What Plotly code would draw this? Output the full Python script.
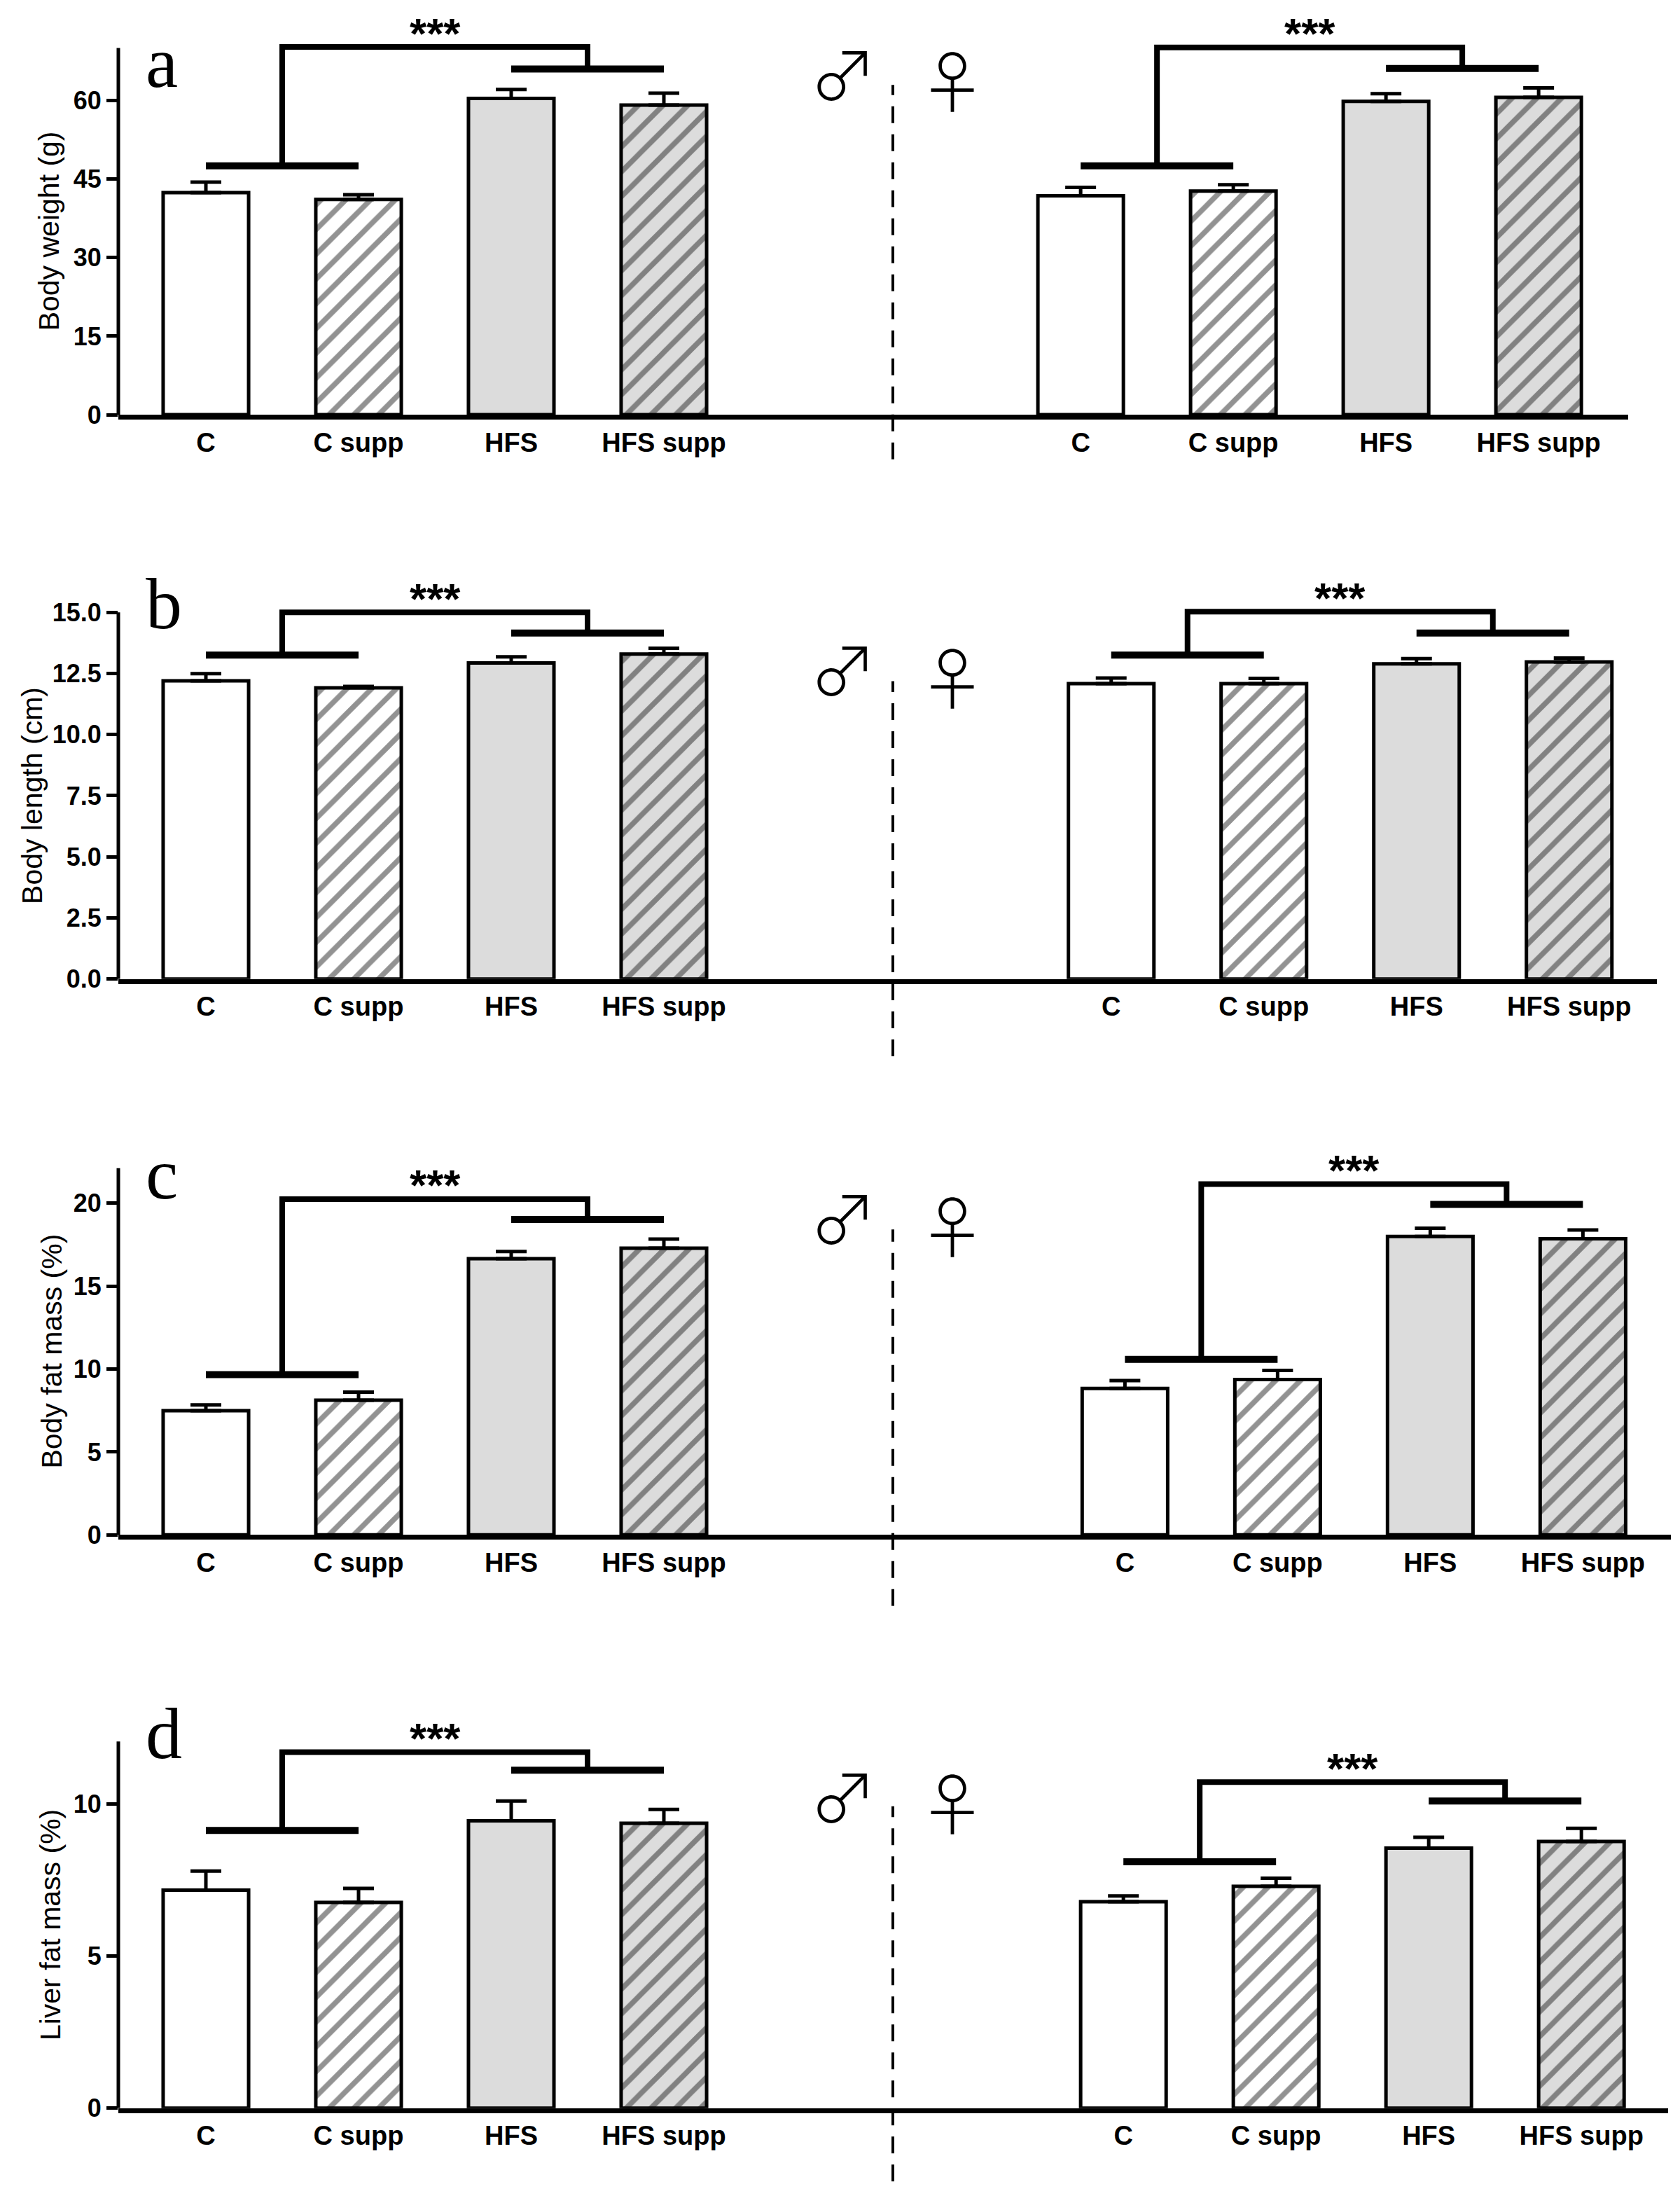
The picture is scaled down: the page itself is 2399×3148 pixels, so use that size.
import plotly.graph_objects as go

W, H = 2399, 3148

groups = ["C", "C supp", "HFS", "HFS supp"]
letters = ["a", "b", "c", "d"]
y_titles = ["Body weight (g)", "Body length (cm)", "Body fat mass (%)", "Liver fat mass (%)"]

# means and SEM
weight_m = [42.4, 41.1, 60.4, 59.1]
weight_m_sem = [2.0, 0.9, 1.7, 2.3]
weight_f = [41.8, 42.7, 59.8, 60.6]
weight_f_sem = [1.6, 1.2, 1.5, 1.8]

length_m = [12.20, 11.91, 12.93, 13.29]
length_m_sem = [0.29, 0.06, 0.25, 0.24]
length_f = [12.08, 12.08, 12.89, 12.97]
length_f_sem = [0.23, 0.22, 0.22, 0.16]

bodyfat_m = [7.49, 8.12, 16.65, 17.28]
bodyfat_m_sem = [0.35, 0.49, 0.43, 0.55]
bodyfat_f = [8.83, 9.36, 17.99, 17.85]
bodyfat_f_sem = [0.47, 0.55, 0.49, 0.53]

liverfat_m = [7.16, 6.76, 9.44, 9.36]
liverfat_m_sem = [0.63, 0.46, 0.65, 0.45]
liverfat_f = [6.78, 7.29, 8.54, 8.76]
liverfat_f_sem = [0.19, 0.26, 0.36, 0.43]

# significance brackets: [left pair, right pair, top]
bracket_m = [[47.5, 66.0, 70.2], [13.25, 14.15, 15.0], [9.66, 19.01, 20.24], [9.12, 11.10, 11.69]]
bracket_f = [[47.5, 66.1, 70.1], [13.25, 14.15, 15.03], [10.58, 19.92, 21.14], [8.09, 10.09, 10.71]]

y_top = [70, 15, 22.1, 12.04]
y_ticks = [[0, 15, 30, 45, 60], [0, 2.5, 5, 7.5, 10, 12.5, 15], [0, 5, 10, 15, 20], [0, 5, 10]]

panels = [
    (weight_m, weight_m_sem, weight_f, weight_f_sem),
    (length_m, length_m_sem, length_f, length_f_sem),
    (bodyfat_m, bodyfat_m_sem, bodyfat_f, bodyfat_f_sem),
    (liverfat_m, liverfat_m_sem, liverfat_f, liverfat_f_sem),
]

# layout in pixels
AX_LEFT = 161
PX_UNIT = 218
X_MIN = -(286 - AX_LEFT) / PX_UNIT
ZERO_PX = [588, 1399, 2198, 3022]
AX_H = 527
EXTRA = 60
AX_RIGHT = [2317, 2358, 2378, 2374]
FEMALE_X0 = [5.73, 5.93, 6.02, 6.01]
LETTER_BASE = [470, 503, 482, 502]
TITLE_X = [62, 38, 66, 64]
DASH_EXT = [(474, 64), (428, 111), (439, 102), (434, 105)]
SYMBOL_Y = [(494, 484), (449, 437), (460, 448), (452, 442)]

fills = ["white", "white", "#dcdcdc", "#dcdcdc"]
hatch = ["", "/", "", "/"]

BOLD = "Liberation Sans"
SYMBOL_FONT = "Noto Sans CJK SC, Noto Sans CJK JP, DejaVu Sans"


def py(px):
    return 1 - px / H


fig = go.Figure()
annotations = []
shapes = []

for i, (m, ms, f, fs) in enumerate(panels):
    sfx = "" if i == 0 else str(i + 1)
    xa, ya = "x" + sfx, "y" + sfx
    f0 = FEMALE_X0[i]

    for g in range(4):
        fig.add_trace(go.Bar(
            x=[g, f0 + g], y=[m[g], f[g]], width=0.56,
            marker=dict(color=fills[g], line=dict(color="black", width=5),
                        pattern=dict(shape=hatch[g], fgcolor="#262626", size=25,
                                     solidity=0.3, fillmode="overlay")),
            error_y=dict(type="data", symmetric=False, array=[ms[g], fs[g]],
                         arrayminus=[0, 0], color="black", thickness=5, width=22),
            xaxis=xa, yaxis=ya, showlegend=False,
        ))

    for base, lv in ((0, bracket_m[i]), (f0, bracket_f[i])):
        lo_l, lo_r, top = lv
        fig.add_trace(go.Scatter(
            x=[base, base + 1, None, base + 2, base + 3],
            y=[lo_l, lo_l, None, lo_r, lo_r],
            mode="lines", line=dict(color="black", width=10),
            xaxis=xa, yaxis=ya, showlegend=False))
        fig.add_trace(go.Scatter(
            x=[base + 0.5, base + 0.5, base + 2.5, base + 2.5],
            y=[lo_l, top, top, lo_r],
            mode="lines", line=dict(color="black", width=8),
            xaxis=xa, yaxis=ya, showlegend=False))
        annotations.append(dict(
            x=base + 1.5, y=top, xref=xa, yref=ya, text="***", showarrow=False,
            yanchor="middle", yshift=20,
            font=dict(family=BOLD, size=62, color="black", weight="bold")))

    z = ZERO_PX[i]
    rng_top = y_top[i] * (AX_H + EXTRA) / AX_H
    x_max = X_MIN + (AX_RIGHT[i] - AX_LEFT) / PX_UNIT

    fig.update_layout({
        "xaxis" + sfx: dict(
            domain=[AX_LEFT / W, AX_RIGHT[i] / W], range=[X_MIN, x_max],
            anchor=ya, showline=True, linewidth=7, linecolor="black",
            showgrid=False, zeroline=False, ticks="",
            tickvals=[0, 1, 2, 3] + [f0 + k for k in range(4)],
            ticktext=groups * 2, ticklabelstandoff=0,
            tickfont=dict(family=BOLD, size=38, color="black", weight="bold")),
        "yaxis" + sfx: dict(
            domain=[py(z), py(z - AX_H - EXTRA)], range=[0, rng_top],
            anchor=xa, showline=False, showgrid=False, zeroline=False,
            ticks="outside", ticklen=16, tickwidth=5, tickcolor="black",
            tickvals=y_ticks[i], tickformat=".1f" if i == 1 else "d",
            tickfont=dict(family=BOLD, size=36, color="black", weight="bold")),
    })

    # y axis line, stopping at the top of the scale
    shapes.append(dict(type="line", xref="paper", yref=ya,
                       x0=AX_LEFT / W, x1=AX_LEFT / W, y0=0, y1=y_top[i],
                       line=dict(color="black", width=5)))
    # dashed separator between males and females
    up, down = DASH_EXT[i]
    shapes.append(dict(type="line", xref=xa, yref="paper", x0=4.5, x1=4.5,
                       y0=py(z + down), y1=py(z - up),
                       line=dict(color="black", width=4, dash="24px,16px")))

    annotations.append(dict(
        x=198 / W, y=py(z - LETTER_BASE[i] + 23), xref="paper", yref="paper",
        text=letters[i], showarrow=False, xanchor="left", yanchor="bottom",
        font=dict(family="Liberation Serif", size=104, color="black")))
    annotations.append(dict(
        x=TITLE_X[i] / W, y=y_top[i] / 2, xref="paper", yref=ya,
        text=y_titles[i], showarrow=False, textangle=-90,
        xanchor="center", yanchor="middle",
        font=dict(family="Liberation Sans", size=41, color="black")))
    sm, sf = SYMBOL_Y[i]
    annotations.append(dict(
        x=1196 / W, y=py(z - sm), xref="paper", yref="paper", text="♂",
        showarrow=False, xanchor="center", yanchor="middle",
        font=dict(family=SYMBOL_FONT, size=96, color="black", weight=300)))
    annotations.append(dict(
        x=1352 / W, y=py(z - sf), xref="paper", yref="paper", text="♀",
        showarrow=False, xanchor="center", yanchor="middle",
        font=dict(family=SYMBOL_FONT, size=96, color="black", weight=300)))

fig.update_layout(
    width=W, height=H, margin=dict(l=0, r=0, t=0, b=0),
    paper_bgcolor="white", plot_bgcolor="white",
    barmode="overlay", showlegend=False,
    annotations=annotations, shapes=shapes,
)

fig.write_html("out.html")
